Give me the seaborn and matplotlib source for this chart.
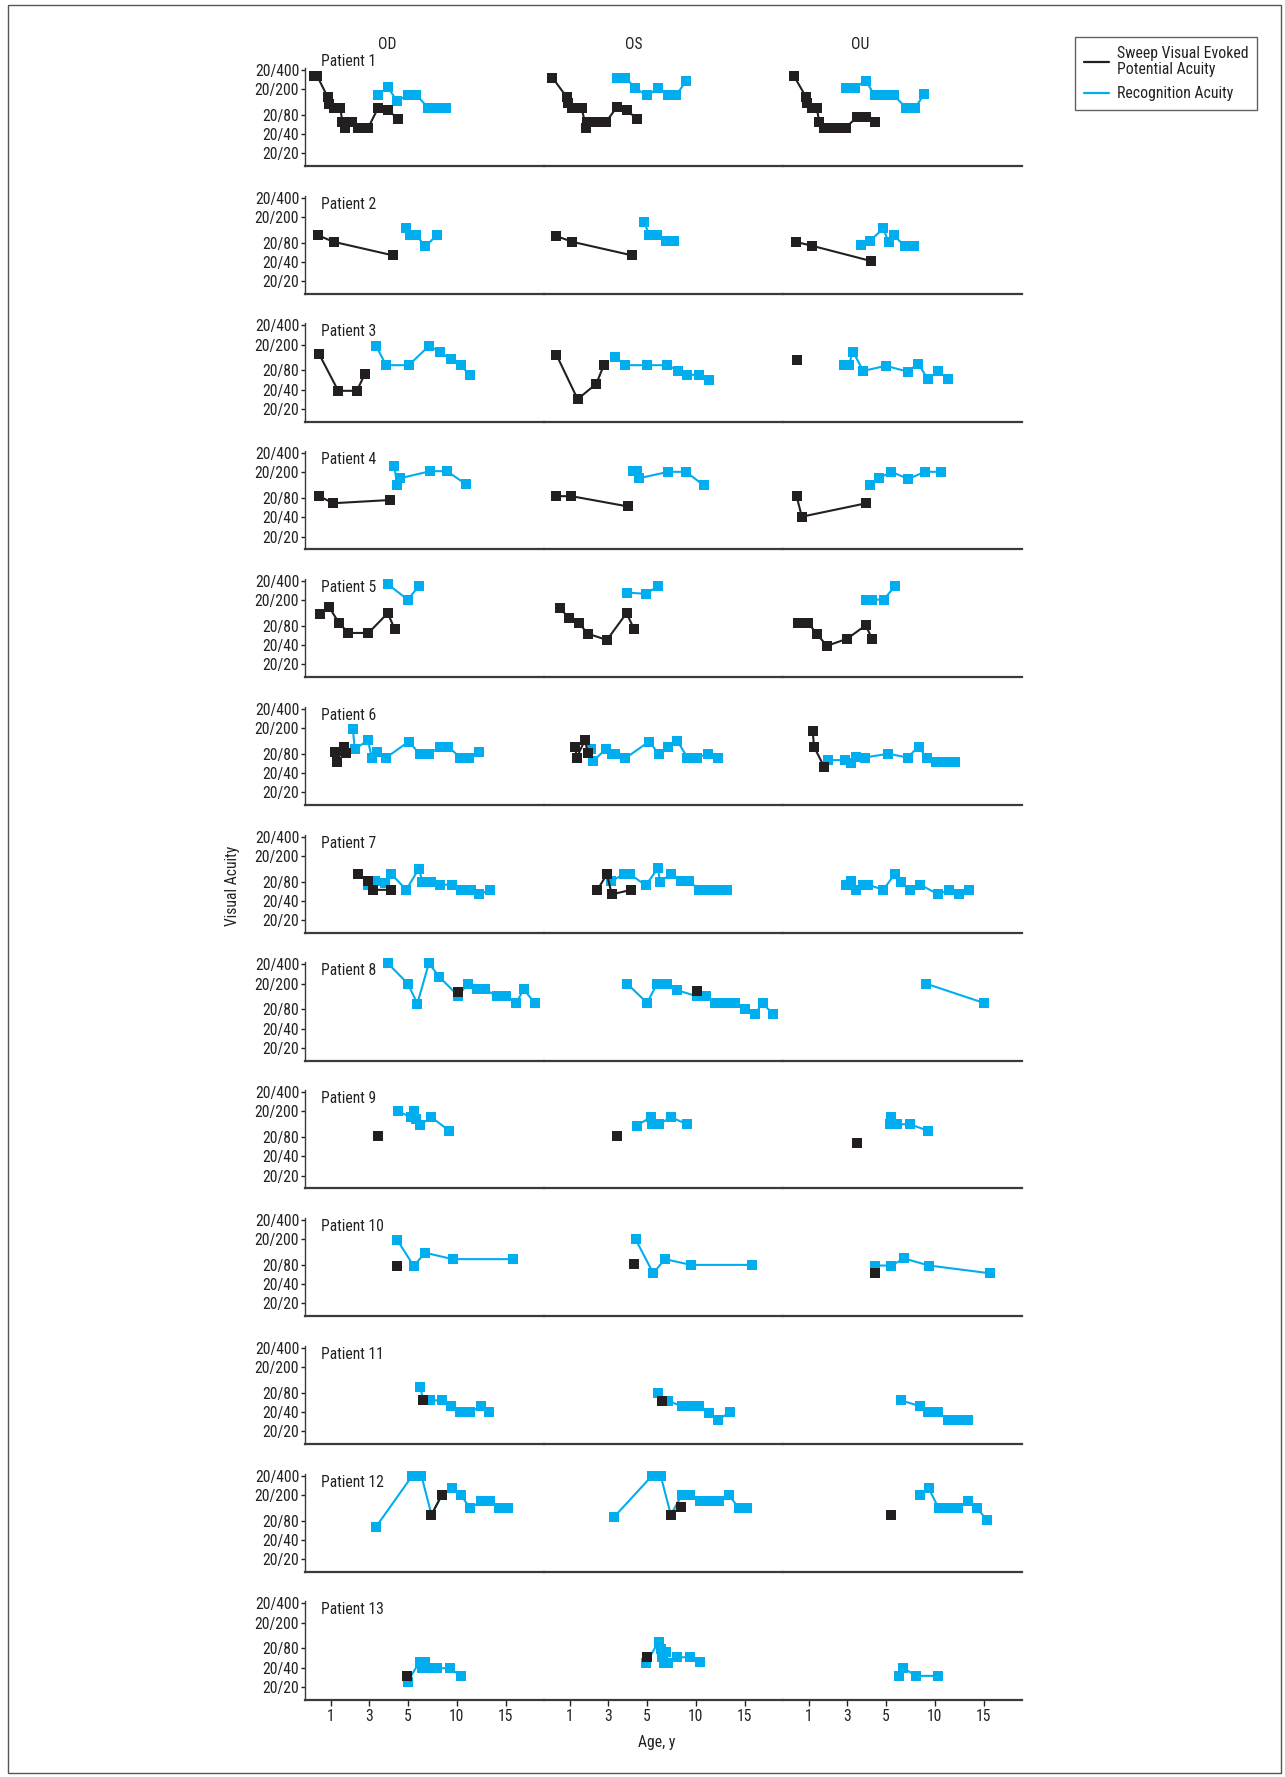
import numpy as np
import pandas as pd
import matplotlib
matplotlib.use("Agg")
import matplotlib.pyplot as plt
from matplotlib import font_manager as fm
from matplotlib.lines import Line2D
from matplotlib.patches import Rectangle
import seaborn as sns

sns.set_style("ticks")

EYES = ["OD", "OS", "OU"]
VA_TICKS = [1.3, 1.0, 0.6, 0.3, 0.0]          # logMAR
VA_LABELS = ["20/400", "20/200", "20/80", "20/40", "20/20"]
AGE_TICKS = [1, 3, 5, 10, 15]
SWEEP_COLOR = "#231f20"
RECOG_COLOR = "#00aeef"

# (ages in years, acuity in logMAR) per eye
p1_sweep = {"OD": ([0.15, 0.3, 0.85, 0.9, 1.15, 1.5, 1.6, 1.75, 2.1, 2.4, 2.95, 3.45, 3.95, 4.5],
                   [1.2, 1.2, 0.87, 0.77, 0.70, 0.70, 0.49, 0.40, 0.48, 0.40, 0.40, 0.70, 0.67, 0.54]),
            "OS": ([0.1, 0.85, 0.9, 1.14, 1.62, 1.85, 1.9, 2.35, 2.87, 3.45, 3.97, 4.47],
                   [1.18, 0.87, 0.79, 0.70, 0.70, 0.40, 0.49, 0.48, 0.48, 0.72, 0.67, 0.54]),
            "OU": ([0.24, 0.85, 0.9, 1.16, 1.42, 1.55, 1.81, 2.07, 2.41, 2.91, 3.51, 3.96, 4.43],
                   [1.20, 0.88, 0.79, 0.70, 0.70, 0.48, 0.40, 0.40, 0.40, 0.40, 0.56, 0.56, 0.48])}
p1_recog = {"OD": ([3.43, 3.96, 4.45, 5.0, 5.88, 7.06, 7.93, 8.86],
                   [0.90, 1.03, 0.81, 0.91, 0.91, 0.71, 0.71, 0.71]),
            "OS": ([3.45, 3.89, 4.41, 5.04, 6.17, 7.2, 7.97, 9.05],
                   [1.18, 1.18, 1.01, 0.90, 1.01, 0.90, 0.90, 1.13]),
            "OU": ([2.94, 3.38, 3.96, 4.43, 4.9, 5.83, 7.07, 8.0, 8.92],
                   [1.02, 1.02, 1.13, 0.90, 0.90, 0.90, 0.71, 0.71, 0.92])}

p2_sweep = {"OD": ([0.35, 1.16, 4.22], [0.71, 0.61, 0.40]),
            "OS": ([0.31, 1.14, 4.23], [0.70, 0.61, 0.40]),
            "OU": ([0.32, 1.16, 4.25], [0.61, 0.55, 0.31])}
p2_recog = {"OD": ([4.92, 5.26, 5.88, 6.8, 7.94], [0.83, 0.71, 0.71, 0.54, 0.71]),
            "OS": ([4.88, 5.24, 6.06, 6.94, 7.81], [0.92, 0.71, 0.71, 0.62, 0.62]),
            "OU": ([3.72, 4.17, 4.87, 5.28, 5.84, 6.97, 7.9], [0.56, 0.62, 0.82, 0.61, 0.71, 0.54, 0.54])}

p3_sweep = {"OD": ([0.4, 1.39, 2.36, 2.78], [0.85, 0.28, 0.28, 0.55]),
            "OS": ([0.31, 1.41, 2.38, 2.77], [0.84, 0.15, 0.39, 0.68]),
            "OU": ([0.37], [0.76])}
p3_recog = {"OD": ([3.35, 3.88, 5.11, 7.16, 8.29, 9.37, 10.4, 11.3],
                   [0.98, 0.68, 0.68, 0.98, 0.89, 0.77, 0.68, 0.53]),
            "OS": ([3.37, 3.89, 5.04, 7.09, 8.22, 9.15, 10.38, 11.3],
                   [0.80, 0.68, 0.68, 0.68, 0.59, 0.53, 0.53, 0.45]),
            "OU": ([2.81, 3.07, 3.3, 3.83, 5.01, 7.22, 8.3, 9.33, 10.3, 11.33],
                   [0.68, 0.68, 0.89, 0.59, 0.67, 0.58, 0.70, 0.46, 0.59, 0.47])}

p4_sweep = {"OD": ([0.4, 1.13, 4.06], [0.63, 0.52, 0.57]),
            "OS": ([0.31, 1.09, 4.02], [0.63, 0.63, 0.47]),
            "OU": ([0.37, 0.64, 3.99], [0.63, 0.31, 0.52])}
p4_recog = {"OD": ([4.3, 4.45, 4.6, 7.3, 9.0, 10.9], [1.10, 0.80, 0.91, 1.02, 1.02, 0.82]),
            "OS": ([4.3, 4.5, 4.6, 7.2, 9.0, 10.8], [1.02, 1.02, 0.91, 1.01, 1.01, 0.80]),
            "OU": ([4.17, 4.64, 5.58, 7.27, 9.02, 10.66], [0.80, 0.91, 1.01, 0.90, 1.01, 1.01])}

p5_sweep = {"OD": ([0.42, 0.92, 1.42, 1.91, 2.96, 3.96, 4.32], [0.79, 0.89, 0.65, 0.49, 0.49, 0.80, 0.55]),
            "OS": ([0.49, 0.96, 1.46, 1.93, 2.93, 3.95, 4.34], [0.88, 0.72, 0.65, 0.48, 0.38, 0.80, 0.55]),
            "OU": ([0.45, 0.98, 1.42, 1.95, 3.0, 3.96, 4.3], [0.65, 0.65, 0.47, 0.29, 0.40, 0.61, 0.39])}
p5_recog = {"OD": ([3.96, 5.0, 6.13], [1.25, 1.01, 1.22]),
            "OS": ([3.97, 4.94, 6.17], [1.12, 1.10, 1.22]),
            "OU": ([3.96, 4.3, 4.9, 5.93], [1.01, 1.01, 1.01, 1.22])}

p6_sweep = {"OD": ([1.2, 1.3, 1.7, 1.8], [0.63, 0.47, 0.71, 0.61]),
            "OS": ([1.28, 1.36, 1.8, 1.93], [0.71, 0.54, 0.82, 0.61]),
            "OU": ([1.21, 1.27, 1.81], [0.95, 0.71, 0.39])}
p6_recog = {"OD": ([2.15, 2.25, 2.93, 3.14, 3.41, 3.88, 5.11, 6.24, 7.17, 8.3, 9.12, 10.36, 11.28, 12.31],
                   [0.98, 0.67, 0.81, 0.53, 0.62, 0.54, 0.79, 0.59, 0.59, 0.71, 0.71, 0.54, 0.54, 0.62]),
            "OS": ([2.1, 2.2, 2.9, 3.19, 3.37, 3.89, 5.24, 6.27, 7.19, 8.12, 9.15, 10.12, 11.2, 12.23],
                   [0.67, 0.48, 0.68, 0.60, 0.60, 0.53, 0.79, 0.59, 0.71, 0.80, 0.54, 0.54, 0.60, 0.54]),
            "OU": ([2.02, 2.86, 3.2, 3.43, 3.9, 5.27, 7.22, 8.35, 9.18, 10.15, 11.08, 12.1],
                   [0.50, 0.50, 0.46, 0.55, 0.54, 0.60, 0.54, 0.71, 0.53, 0.47, 0.47, 0.47])}

p7_sweep = {"OD": ([2.39, 2.91, 3.22, 4.14], [0.71, 0.61, 0.47, 0.47]),
            "OS": ([2.43, 2.93, 3.19, 4.19], [0.47, 0.71, 0.40, 0.47]),
            "OU": ([], [])}
p7_recog = {"OD": ([2.96, 3.3, 3.8, 4.14, 4.92, 6.13, 6.49, 7.42, 8.34, 9.47, 10.4, 11.42, 12.3, 13.43],
                   [0.54, 0.61, 0.57, 0.72, 0.47, 0.80, 0.60, 0.60, 0.55, 0.55, 0.47, 0.47, 0.40, 0.47]),
            "OS": ([3.16, 3.81, 4.15, 4.94, 6.17, 6.32, 7.45, 8.48, 9.35, 10.38, 11.3, 12.23, 13.2],
                   [0.61, 0.71, 0.71, 0.54, 0.81, 0.60, 0.71, 0.61, 0.61, 0.46, 0.46, 0.46, 0.46]),
            "OU": ([2.94, 3.2, 3.43, 3.83, 4.09, 4.87, 5.94, 6.55, 7.48, 8.5, 10.36, 11.44, 12.47, 13.45],
                   [0.54, 0.61, 0.47, 0.55, 0.55, 0.47, 0.72, 0.60, 0.47, 0.55, 0.40, 0.47, 0.40, 0.47])}

p8_sweep = {"OD": ([10.15], [0.87]), "OS": ([10.12], [0.89]), "OU": ([], [])}
p8_recog = {"OD": ([3.96, 5.0, 5.98, 7.16, 8.19, 10.15, 11.12, 12.05, 12.92, 14.1, 15.03, 16.06, 16.83, 17.96],
                   [1.32, 1.0, 0.69, 1.32, 1.11, 0.81, 1.0, 0.91, 0.91, 0.80, 0.80, 0.70, 0.91, 0.70]),
            "OS": ([3.98, 5.03, 6.06, 7.09, 8.06, 10.17, 11.05, 11.97, 12.95, 13.98, 15.06, 16.09, 16.81, 17.84],
                   [1.0, 0.70, 1.0, 1.0, 0.90, 0.80, 0.80, 0.70, 0.70, 0.70, 0.60, 0.53, 0.70, 0.53]),
            "OU": ([9.1, 15.0], [1.0, 0.70])}

p9_sweep = {"OD": ([3.43], [0.62]), "OS": ([3.43], [0.62]), "OU": ([3.51], [0.51])}
p9_recog = {"OD": ([4.48, 5.37, 5.63, 5.88, 6.24, 7.42, 9.22], [1.0, 0.91, 1.0, 0.88, 0.79, 0.91, 0.70]),
            "OS": ([4.49, 5.39, 5.5, 6.26, 7.45, 9.15], [0.78, 0.91, 0.80, 0.80, 0.91, 0.80]),
            "OU": ([5.42, 5.52, 5.65, 6.19, 7.48, 9.28], [0.80, 0.91, 0.80, 0.80, 0.80, 0.70])}

p10_sweep = {"OD": ([4.45], [0.58]), "OS": ([4.36], [0.61]), "OU": ([4.43], [0.47])}
p10_recog = {"OD": ([4.45, 5.62, 6.75, 9.58, 15.75], [0.99, 0.58, 0.79, 0.69, 0.69]),
             "OS": ([4.42, 5.66, 6.85, 9.52, 15.7], [1.0, 0.47, 0.69, 0.60, 0.60]),
             "OU": ([4.43, 5.58, 6.86, 9.43, 15.6], [0.59, 0.59, 0.70, 0.59, 0.47])}

p11_sweep = {"OD": ([6.55], [0.48]), "OS": ([6.58], [0.47]), "OU": ([], [])}
p11_recog = {"OD": ([6.29, 6.55, 7.32, 8.45, 9.37, 10.35, 11.38, 12.46, 13.33],
                    [0.69, 0.48, 0.48, 0.48, 0.39, 0.30, 0.30, 0.39, 0.30]),
             "OS": ([6.17, 6.58, 7.2, 8.59, 9.26, 10.29, 11.32, 12.24, 13.48],
                    [0.60, 0.47, 0.47, 0.39, 0.39, 0.39, 0.29, 0.17, 0.30]),
             "OU": ([6.55, 8.5, 9.28, 10.3, 11.33, 12.36, 13.4], [0.48, 0.39, 0.30, 0.30, 0.17, 0.17, 0.17])}

p12_sweep = {"OD": ([7.42, 8.45], [0.69, 0.99]), "OS": ([7.45, 8.48], [0.69, 0.81]), "OU": ([5.58], [0.68])}
p12_recog = {"OD": ([3.35, 5.47, 6.39, 7.42, 8.45, 9.47, 10.4, 11.38, 12.46, 13.43, 14.36, 15.23],
                    [0.50, 1.30, 1.30, 0.69, 0.99, 1.10, 1.0, 0.79, 0.90, 0.90, 0.79, 0.79]),
             "OS": ([3.32, 5.55, 6.42, 7.45, 8.59, 9.41, 10.44, 11.41, 12.34, 13.37, 14.4, 15.27],
                    [0.66, 1.30, 1.30, 0.69, 1.0, 1.0, 0.90, 0.90, 0.90, 1.0, 0.79, 0.79]),
             "OU": ([8.5, 9.38, 10.41, 11.33, 12.36, 13.4, 14.32, 15.3],
                    [1.0, 1.10, 0.79, 0.79, 0.79, 0.90, 0.79, 0.61])}

p13_sweep = {"OD": ([4.95], [0.17]), "OS": ([5.0], [0.46]), "OU": ([], [])}
p13_recog = {"OD": ([5.0, 6.2, 6.5, 6.8, 7.0, 7.4, 8.0, 9.3, 10.4],
                    [0.08, 0.39, 0.29, 0.39, 0.29, 0.29, 0.29, 0.29, 0.17]),
             "OS": ([4.97, 6.2, 6.5, 6.6, 6.8, 7.0, 7.2, 8.1, 9.4, 10.4],
                    [0.37, 0.70, 0.59, 0.46, 0.37, 0.55, 0.37, 0.46, 0.46, 0.38]),
             "OU": ([6.35, 6.78, 8.12, 10.38], [0.17, 0.29, 0.17, 0.17])}

patients = [(p1_sweep, p1_recog), (p2_sweep, p2_recog), (p3_sweep, p3_recog), (p4_sweep, p4_recog),
            (p5_sweep, p5_recog), (p6_sweep, p6_recog), (p7_sweep, p7_recog), (p8_sweep, p8_recog),
            (p9_sweep, p9_recog), (p10_sweep, p10_recog), (p11_sweep, p11_recog), (p12_sweep, p12_recog),
            (p13_sweep, p13_recog)]


# age axis: first 5 years stretched twice as wide as later years
def age_fwd(a):
    a = np.asarray(a, dtype=float)
    return np.where(a < 5, a * 19.25, 96.25 + (a - 5) * 9.8)


def age_inv(p):
    p = np.asarray(p, dtype=float)
    return np.where(p < 96.25, p / 19.25, 5 + (p - 96.25) / 9.8)


# pick a narrow font if one is installed (the original uses a condensed sans)
family, stretch = "DejaVu Sans", "normal"
prefs = ["Liberation Sans Narrow", "Roboto Condensed", "Open Sans Condensed", "DejaVu Sans Condensed",
         "Noto Sans", "DejaVu Sans", "Roboto", "Open Sans", "Lato", "Inter"]
narrow = [f for f in fm.fontManager.ttflist
          if f.style == "normal" and f.weight in (400, "normal", "regular")
          and ("Narrow" in f.name or "Condensed" in f.name
               or f.stretch in ("condensed", "semi-condensed", "extra-condensed", 500 - 125, 300, 400 - 25))]
for p in prefs:
    hit = [f for f in narrow if f.name == p]
    if hit:
        family, stretch = hit[0].name, hit[0].stretch
        break
plt.rcParams['font.family'] = [family, 'DejaVu Sans']
plt.rcParams['font.stretch'] = stretch

W, H = 1285, 1777
fig = plt.figure(figsize=(W / 100, H / 100), dpi=100)
renderer = fig.canvas.get_renderer()


def fit_size(text, target_px, base=10.0):
    t = fig.text(0, 0, text, fontsize=base)
    w = t.get_window_extent(renderer=renderer).width
    t.remove()
    return base * target_px / w


FS = min(fit_size("Patient 10", 62), 12.5)
LFS = min(fit_size("Sweep Visual Evoked", 131), 12.5)
n_rows = len(patients)
header_x = [3.92, 4.34, 3.66]

for r, (sweep, recog) in enumerate(patients):
    bottom_px = 166 + 127.8 * r
    for c, eye in enumerate(EYES):
        ax = fig.add_axes([(304.7 + 239 * c) / W, 1 - bottom_px / H, 239 / W, 105.8 / H])
        ax.patch.set_alpha(0)
        ra, rv = recog[eye]
        if len(ra):
            sns.lineplot(x=ra, y=rv, ax=ax, sort=False, estimator=None, color=RECOG_COLOR,
                         marker="s", markersize=6.5, markeredgewidth=0, linewidth=1.5, legend=False)
        sa, sv = sweep[eye]
        if len(sa):
            sns.lineplot(x=sa, y=sv, ax=ax, sort=False, estimator=None, color=SWEEP_COLOR,
                         marker="s", markersize=6.5, markeredgewidth=0, linewidth=1.5, legend=False)
        ax.set_xscale("function", functions=(age_fwd, age_inv))
        ax.set_xlim(-0.353, 18.87)
        ax.set_ylim(-0.2, 1.45)
        ax.set_xlabel("")
        ax.set_ylabel("")
        sns.despine(ax=ax, left=(c > 0))
        ax.spines["bottom"].set_linewidth(1.6)
        ax.spines["bottom"].set_color("#3a3a3a")
        if c == 0:
            ax.spines["left"].set_bounds(-0.2, 1.33)
            ax.spines["left"].set_linewidth(1.0)
            ax.spines["left"].set_color("#3a3a3a")
            ax.set_yticks(VA_TICKS)
            ax.set_yticklabels(VA_LABELS)
            ax.tick_params(axis="y", length=3, width=1, pad=1, labelsize=FS, colors="#222222")
            ty = 1.43 if r == 0 else 1.2
            ax.text(0.067, ty, f"Patient {r + 1}", transform=ax.get_yaxis_transform(),
                    ha="left", va="center", fontsize=FS, color="#222222")
        else:
            ax.set_yticks([])
        ax.xaxis.set_minor_locator(matplotlib.ticker.NullLocator())
        if r == n_rows - 1:
            ax.set_xticks(AGE_TICKS)
            ax.set_xticklabels([str(t) for t in AGE_TICKS])
            ax.tick_params(axis="x", length=4, width=1, pad=3, labelsize=FS, colors="#222222")
        else:
            ax.set_xticks([])
        if r == 0:
            ax.text(header_x[c], 1.69, eye, ha="center", va="center", fontsize=FS,
                    color="#222222", clip_on=False)

fig.text(232 / W, 1 - 886 / H, "Visual Acuity", rotation=90, ha="center", va="center",
         fontsize=FS, color="#222222")
fig.text(657 / W, 1 - 1743 / H, "Age, y", ha="center", va="center", fontsize=FS, color="#222222")

handles = [Line2D([], [], color=SWEEP_COLOR, lw=1.6), Line2D([], [], color=RECOG_COLOR, lw=1.6)]
leg = fig.legend(handles, ["Sweep Visual Evoked\nPotential Acuity", "Recognition Acuity"],
                 loc="upper left", bbox_to_anchor=(1075 / W, 1 - 37 / H), frameon=True,
                 fancybox=False, edgecolor="#3a3a3a", fontsize=LFS, handlelength=1.6,
                 handletextpad=0.5, borderaxespad=0, borderpad=0.55, labelspacing=0.55)
leg.get_frame().set_linewidth(1.0)
for t in leg.get_texts():
    t.set_linespacing(1.15)
    t.set_color("#222222")

fig.add_artist(Rectangle((8 / W, 1 - 1773 / H), (1281 - 8) / W, (1773 - 5) / H,
                         transform=fig.transFigure, fill=False, lw=1.0, ec="#555555"))

fig.savefig("out.png", dpi=100)
